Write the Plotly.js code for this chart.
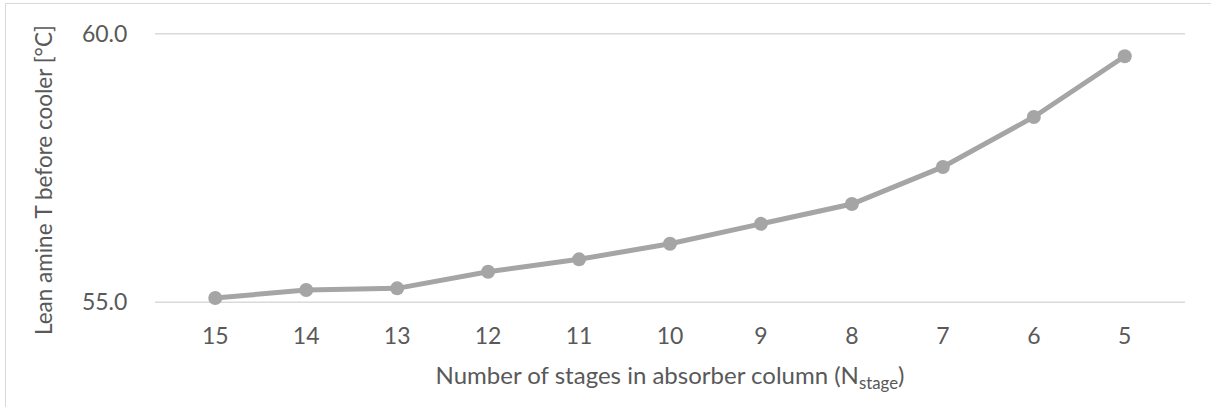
<!DOCTYPE html>
<html>
<head>
<meta charset="utf-8">
<script src="https://cdn.plot.ly/plotly-3.0.1.min.js"></script>
<style>
html,body{margin:0;padding:0;background:#fff;overflow:hidden;}
#chart{width:1211px;height:407px;}
#frame{position:absolute;left:5px;top:3px;width:1220px;height:420px;border:1px solid #D9D9D9;box-sizing:border-box;pointer-events:none;}
</style>
</head>
<body>
<div id="chart"></div>
<div id="frame"></div>
<script>
const stages = ['15','14','13','12','11','10','9','8','7','6','5'];
const leanAmineT = [55.08, 55.23, 55.26, 55.57, 55.80, 56.09, 56.46, 56.83, 57.52, 58.45, 59.58];
const yTickVals = [55, 60];
const xTitle = 'Number of stages in absorber column (N<sub>stage</sub>)';
const yTitle = 'Lean amine T before cooler [°C]';

const trace = {
  x: stages,
  y: leanAmineT,
  type: 'scatter',
  mode: 'lines+markers',
  line: {color: '#A5A5A5', width: 5},
  marker: {color: '#A5A5A5', size: 14},
  cliponaxis: false,
  hoverinfo: 'x+y'
};

const fam = 'Lato, "Open Sans", sans-serif';
const col = '#595959';

const gridShapes = yTickVals.map(v => ({
  type: 'line', xref: 'paper', yref: 'y',
  x0: 0, x1: 1, y0: v, y1: v,
  line: {color: '#D9D9D9', width: 1.5},
  layer: 'below'
}));

const layout = {
  width: 1211, height: 407,
  margin: {l: 155, r: 26, t: 31.3, b: 101.8, pad: 0},
  paper_bgcolor: '#fff', plot_bgcolor: '#fff',
  showlegend: false,
  font: {family: fam, color: col, size: 23},
  xaxis: {
    type: 'category',
    showgrid: false, zeroline: false, showline: false,
    ticks: 'outside', ticklen: 10, tickcolor: 'rgba(0,0,0,0)',
    tickfont: {family: fam, color: col, size: 23},
    title: {text: xTitle, font: {family: fam, color: col, size: 24}, standoff: 19}
  },
  yaxis: {
    range: [54.95, 60.05],
    tickvals: yTickVals,
    tickformat: '.1f',
    showgrid: false,
    zeroline: false, showline: false,
    ticks: 'outside', ticklen: 22, tickcolor: 'rgba(0,0,0,0)',
    tickfont: {family: fam, color: col, size: 23}
  },
  shapes: gridShapes,
  annotations: [{
    text: yTitle,
    xref: 'paper', yref: 'paper',
    x: -0.1087, y: 0.456,
    xanchor: 'center', yanchor: 'middle',
    textangle: -90,
    showarrow: false,
    font: {family: fam, color: col, size: 22.5}
  }]
};

Plotly.newPlot('chart', [trace], layout, {displayModeBar: false, staticPlot: true});
</script>
</body>
</html>
